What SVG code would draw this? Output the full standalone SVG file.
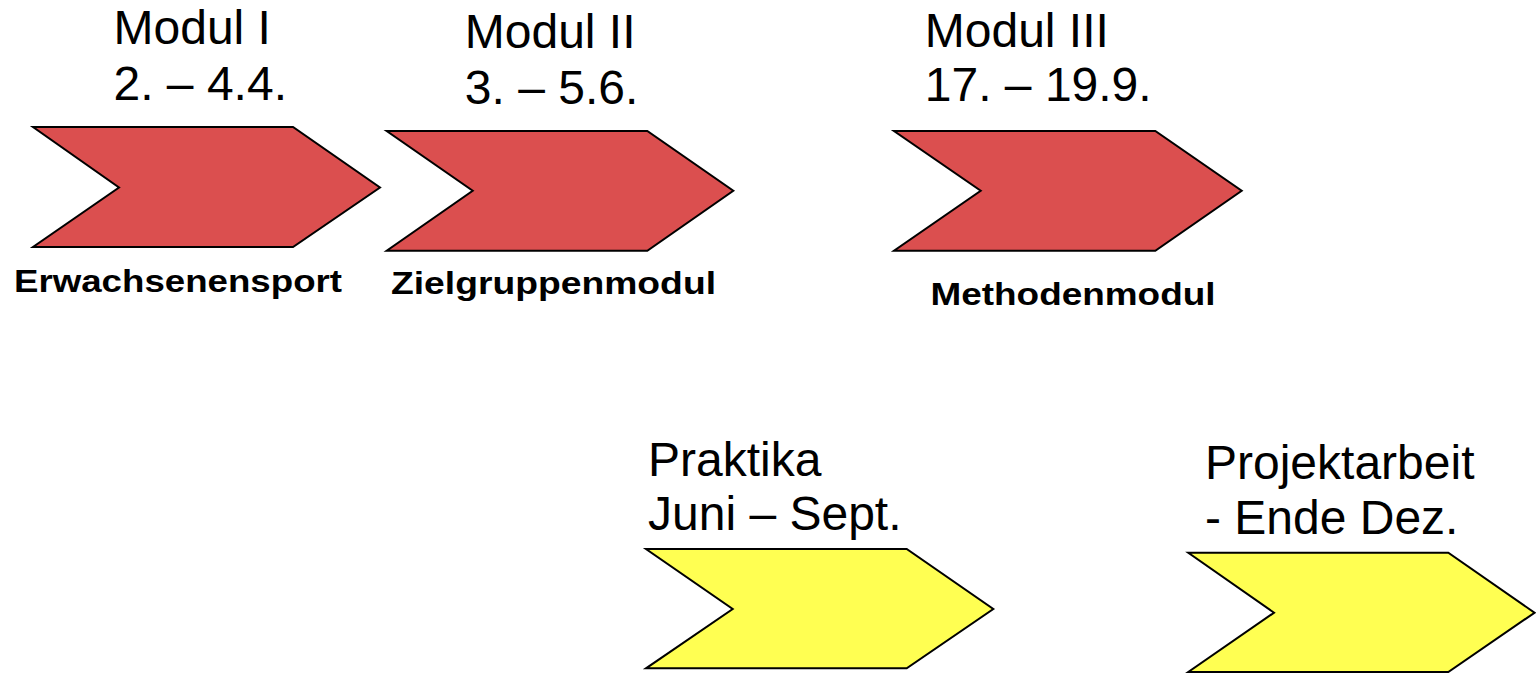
<svg xmlns="http://www.w3.org/2000/svg" width="1536" height="674" viewBox="0 0 1536 674">
<style>
.red{fill:#DB4F4F;stroke:#000;stroke-width:2;stroke-linejoin:miter}
.yel{fill:#FFFF52;stroke:#000;stroke-width:2;stroke-linejoin:miter}
.t{font-family:"Liberation Sans",Arial,sans-serif;font-size:48px;fill:#000}
.b{font-family:"Liberation Sans",Arial,sans-serif;font-size:32px;font-weight:bold;fill:#000}
</style>
<rect width="1536" height="674" fill="#fff"/>
<g id="modul1">
<polygon class="red" points="33,127 293,127 380,187.5 293,247 33,247 119,187.5"/>
<text class="t" x="113.5" y="44.3">Modul I</text>
<text class="t" x="113.5" y="100">2. – 4.4.</text>
<text class="b" x="14" y="292" textLength="328" lengthAdjust="spacingAndGlyphs">Erwachsenensport</text>
</g>
<g id="modul2">
<polygon class="red" points="386.7,131 647.3,131 733.3,190.7 647.3,250.7 386.7,250.7 472.7,190.7"/>
<text class="t" x="464.8" y="47.7">Modul II</text>
<text class="t" x="464.8" y="103.5">3. – 5.6.</text>
<text class="b" x="391" y="293.5" textLength="325" lengthAdjust="spacingAndGlyphs">Zielgruppenmodul</text>
</g>
<g id="modul3">
<polygon class="red" points="894,131 1155.3,131 1241.7,190.7 1155.3,250.7 894,250.7 980.7,190.7"/>
<text class="t" x="924.8" y="46.7">Modul III</text>
<text class="t" x="924.8" y="101">17. – 19.9.</text>
<text class="b" x="930.5" y="305" textLength="285" lengthAdjust="spacingAndGlyphs">Methodenmodul</text>
</g>
<g id="praktika">
<polygon class="yel" points="646,549 906.7,549 993.3,609 906.7,668.3 646,668.3 732.7,609"/>
<text class="t" x="648" y="476">Praktika</text>
<text class="t" x="648" y="530">Juni – Sept.</text>
</g>
<g id="projektarbeit">
<polygon class="yel" points="1188.3,552.7 1448.3,552.7 1534.5,612.7 1448.3,672 1188.3,672 1274,612.7"/>
<text class="t" x="1205" y="479">Projektarbeit</text>
<text class="t" x="1205" y="534">- Ende Dez.</text>
</g>
<g id="connectors"/>
</svg>
